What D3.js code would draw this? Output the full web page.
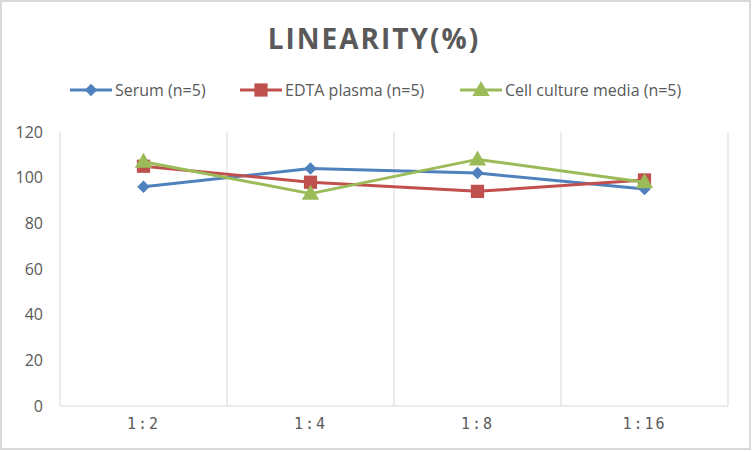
<!DOCTYPE html>
<html>
<head>
<meta charset="utf-8">
<script src="https://cdn.jsdelivr.net/npm/d3@7"></script>
<style>
  body { margin: 0; background: #fff; }
  svg { display: block; font-family: "Open Sans", "Liberation Sans", sans-serif; }
</style>
</head>
<body>
<svg id="chart"></svg>
<script>
// data
const categories = ['1:2', '1:4', '1:8', '1:16'];
const seriesNames = ['Serum (n=5)', 'EDTA plasma (n=5)', 'Cell culture media (n=5)'];
const serum = [96, 104, 102, 95];
const edtaPlasma = [105, 98, 94, 99];
const cellCulture = [107, 93, 108, 98];
const yTicks = [0, 20, 40, 60, 80, 100, 120];

const width = 752;
const height = 452;
const margin = { top: 132, right: 24, bottom: 46, left: 60 };

const svg = d3.select('#chart')
  .attr('width', width)
  .attr('height', height);

// chart frame
svg.append('rect')
  .attr('x', 1).attr('y', 1)
  .attr('width', width - 3).attr('height', height - 4)
  .attr('fill', '#fff')
  .attr('stroke', '#d9d9d9')
  .attr('stroke-width', 2);

const x = d3.scaleBand()
  .domain(categories)
  .range([margin.left, width - margin.right]);

const y = d3.scaleLinear()
  .domain([0, 120])
  .range([height - margin.bottom, margin.top]);

// vertical grid lines at category boundaries
const bounds = categories.map(c => x(c)).concat([x.range()[1]]);
svg.append('g')
  .selectAll('line')
  .data(bounds)
  .join('line')
  .attr('x1', d => d).attr('x2', d => d)
  .attr('y1', y(120)).attr('y2', y(0))
  .attr('stroke', '#d9d9d9')
  .attr('stroke-width', 1);

// bottom axis line
svg.append('line')
  .attr('x1', x.range()[0]).attr('x2', x.range()[1])
  .attr('y1', y(0)).attr('y2', y(0))
  .attr('stroke', '#d9d9d9');

// y axis labels
const yAxis = d3.axisLeft(y).tickValues(yTicks).tickSize(0).tickPadding(17);
svg.append('g')
  .attr('transform', `translate(${margin.left},0)`)
  .call(yAxis)
  .call(g => g.select('.domain').remove())
  .call(g => g.selectAll('text')
    .attr('fill', '#595959')
    .style('font-size', '16px')
    .style('font-family', '"Open Sans", sans-serif'));

// x axis labels
const xAxis = d3.axisBottom(x).tickSize(0).tickPadding(12);
svg.append('g')
  .attr('transform', `translate(0,${y(0)})`)
  .call(xAxis)
  .call(g => g.select('.domain').remove())
  .call(g => g.selectAll('text')
    .attr('fill', '#595959')
    .style('font-size', '15px')
    .style('letter-spacing', '2px')
    .style('font-family', '"DejaVu Sans Mono", monospace'));

// title
svg.append('text')
  .attr('x', 374)
  .attr('y', 49)
  .attr('text-anchor', 'middle')
  .attr('fill', '#595959')
  .style('font-size', '28px')
  .style('font-weight', 'bold')
  .style('letter-spacing', '2px')
  .text('LINEARITY(%)');

const colors = ['#4f81bd', '#c0504d', '#9bbb59'];
const symbols = [d3.symbolDiamond2, d3.symbolSquare, d3.symbolTriangle];
const symbolSizes = [100, 175, 130];
const allSeries = [serum, edtaPlasma, cellCulture];

const line = d3.line()
  .x((d, i) => x(categories[i]) + x.bandwidth() / 2)
  .y(d => y(d));

allSeries.forEach((vals, s) => {
  svg.append('path')
    .datum(vals)
    .attr('d', line)
    .attr('fill', 'none')
    .attr('stroke', colors[s])
    .attr('stroke-width', 3)
    .attr('stroke-linejoin', 'round');

  svg.append('g')
    .selectAll('path')
    .data(vals)
    .join('path')
    .attr('transform', (d, i) => `translate(${x(categories[i]) + x.bandwidth() / 2},${y(d) + (s === 2 ? 1 : 0)})`)
    .attr('d', d3.symbol().type(symbols[s]).size(symbolSizes[s]))
    .attr('fill', colors[s]);
});

// legend
const legendX = [70, 240, 460];
const legend = svg.append('g');
seriesNames.forEach((name, s) => {
  const g = legend.append('g').attr('transform', `translate(${legendX[s]},90)`);
  g.append('line')
    .attr('x1', 0).attr('x2', 42)
    .attr('stroke', colors[s])
    .attr('stroke-width', 3);
  g.append('path')
    .attr('transform', `translate(21,${s === 2 ? 1 : 0})`)
    .attr('d', d3.symbol().type(symbols[s]).size(symbolSizes[s]))
    .attr('fill', colors[s]);
  g.append('text')
    .attr('x', 45)
    .attr('y', 6)
    .attr('fill', '#595959')
    .style('font-size', '16px')
    .text(name);
});
</script>
</body>
</html>
